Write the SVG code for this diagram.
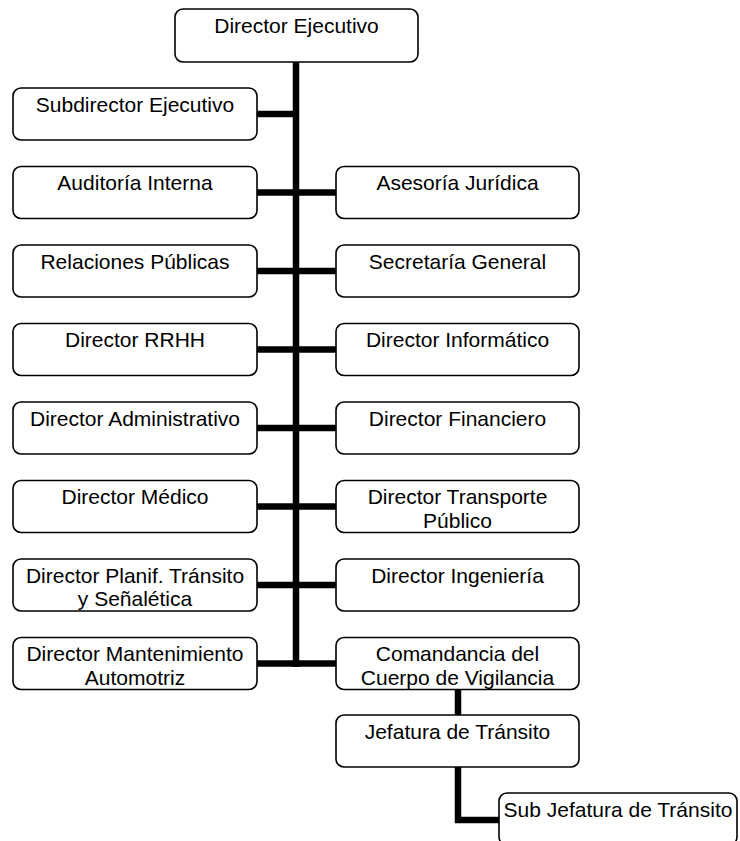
<svg xmlns="http://www.w3.org/2000/svg" width="740" height="841" viewBox="0 0 740 841">
<style>
.box{fill:#fff;stroke:#000;stroke-width:1.6}
.t{font-family:"Liberation Sans",Arial,sans-serif;font-size:21px;fill:#000;text-anchor:middle}
.c{fill:none;stroke:#000;stroke-width:6.5;stroke-linecap:butt;stroke-linejoin:miter}
</style>
<rect width="740" height="841" fill="#fff"/>
<g id="connectors">
<path class="c" d="M296 62V667"/>
<path class="c" d="M257 114H296"/>
<path class="c" d="M257 192.5H336"/>
<path class="c" d="M257 271H336"/>
<path class="c" d="M257 349.5H336"/>
<path class="c" d="M257 428H336"/>
<path class="c" d="M257 506.5H336"/>
<path class="c" d="M257 585H336"/>
<path class="c" d="M257 663.5H336"/>
<path class="c" d="M458 689V715"/>
<path class="c" d="M458 766V820H499"/>
</g>
<g id="n-director-ejecutivo"><rect class="box" x="175" y="9" width="243" height="53" rx="8"/><text class="t" x="296.5" y="33">Director Ejecutivo</text></g>
<g id="n-subdirector"><rect class="box" x="13" y="88" width="244" height="52" rx="8"/><text class="t" x="135" y="111.5">Subdirector Ejecutivo</text></g>
<g id="n-auditoria"><rect class="box" x="13" y="166.5" width="244" height="52" rx="8"/><text class="t" x="135" y="190">Auditoría Interna</text></g>
<g id="n-asesoria"><rect class="box" x="336" y="166.5" width="243" height="52" rx="8"/><text class="t" x="457.5" y="190">Asesoría Jurídica</text></g>
<g id="n-relaciones"><rect class="box" x="13" y="245" width="244" height="52" rx="8"/><text class="t" x="135" y="268.5">Relaciones Públicas</text></g>
<g id="n-secretaria"><rect class="box" x="336" y="245" width="243" height="52" rx="8"/><text class="t" x="457.5" y="268.5">Secretaría General</text></g>
<g id="n-rrhh"><rect class="box" x="13" y="323.5" width="244" height="52" rx="8"/><text class="t" x="135" y="347">Director RRHH</text></g>
<g id="n-informatico"><rect class="box" x="336" y="323.5" width="243" height="52" rx="8"/><text class="t" x="457.5" y="347">Director Informático</text></g>
<g id="n-administrativo"><rect class="box" x="13" y="402" width="244" height="52" rx="8"/><text class="t" x="135" y="425.5">Director Administrativo</text></g>
<g id="n-financiero"><rect class="box" x="336" y="402" width="243" height="52" rx="8"/><text class="t" x="457.5" y="425.5">Director Financiero</text></g>
<g id="n-medico"><rect class="box" x="13" y="480.5" width="244" height="52" rx="8"/><text class="t" x="135" y="504">Director Médico</text></g>
<g id="n-transporte"><rect class="box" x="336" y="480.5" width="243" height="52" rx="8"/><text class="t" x="457.5" y="504">Director Transporte</text><text class="t" x="457.5" y="527.5">Público</text></g>
<g id="n-planif"><rect class="box" x="13" y="559" width="244" height="52" rx="8"/><text class="t" x="135" y="582.5">Director Planif. Tránsito</text><text class="t" x="135" y="606">y Señalética</text></g>
<g id="n-ingenieria"><rect class="box" x="336" y="559" width="243" height="52" rx="8"/><text class="t" x="457.5" y="582.5">Director Ingeniería</text></g>
<g id="n-mantenimiento"><rect class="box" x="13" y="637.5" width="244" height="52" rx="8"/><text class="t" x="135" y="661">Director Mantenimiento</text><text class="t" x="135" y="684.5">Automotriz</text></g>
<g id="n-comandancia"><rect class="box" x="336" y="637.5" width="243" height="52" rx="8"/><text class="t" x="457.5" y="661">Comandancia del</text><text class="t" x="457.5" y="684.5">Cuerpo de Vigilancia</text></g>
<g id="n-jefatura"><rect class="box" x="336" y="715" width="243" height="52" rx="8"/><text class="t" x="457.5" y="738.5">Jefatura de Tránsito</text></g>
<g id="n-subjefatura"><rect class="box" x="499" y="793" width="238" height="52" rx="8"/><text class="t" x="618" y="817">Sub Jefatura de Tránsito</text></g>
</svg>
